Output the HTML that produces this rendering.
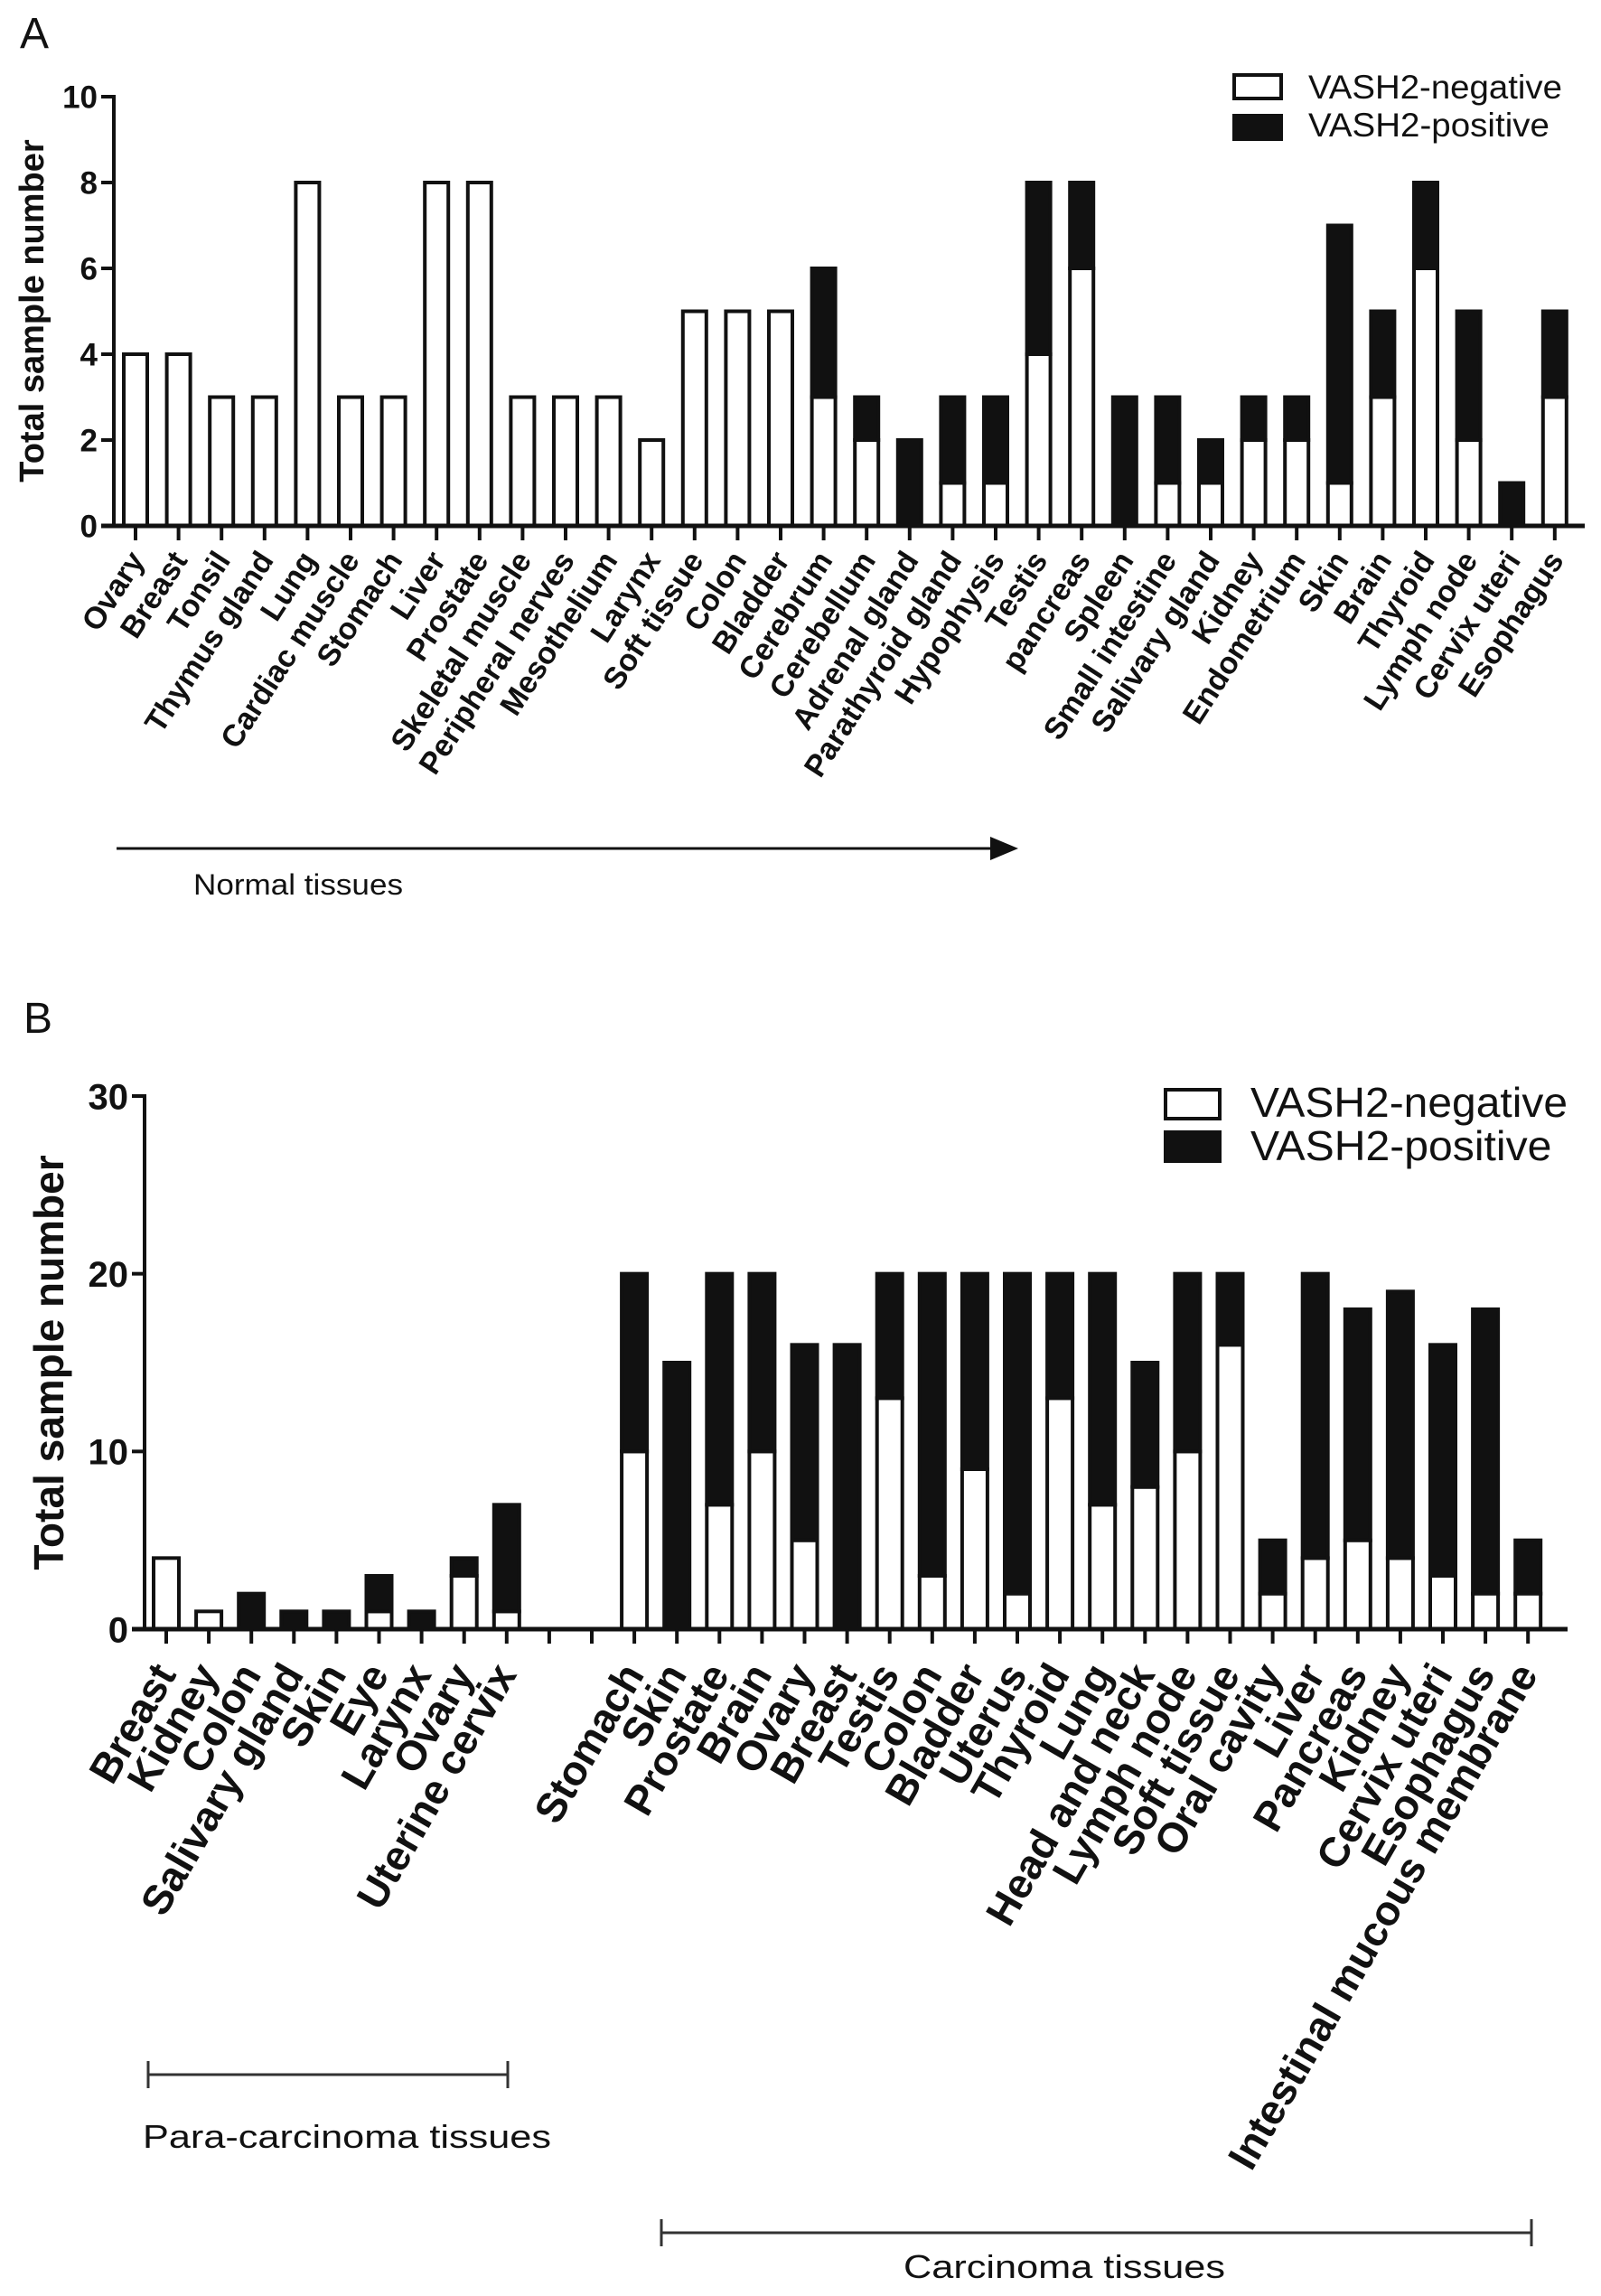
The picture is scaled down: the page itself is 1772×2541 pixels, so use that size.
<!DOCTYPE html>
<html><head><meta charset="utf-8"><style>
html,body{margin:0;padding:0;background:#fff;}
svg{display:block;font-family:"Liberation Sans",Arial,sans-serif;}
</style></head><body>
<svg id="fig" width="1772" height="2541" viewBox="0 0 1772 2541" xmlns="http://www.w3.org/2000/svg">
<rect width="1772" height="2541" fill="#fff"/>
<g id="panelA"></g>
<g id="panelB"></g>
</svg>
<script>
// Panel A data
const catsA = ["Ovary","Breast","Tonsil","Thymus gland","Lung","Cardiac muscle","Stomach","Liver","Prostate","Skeletal muscle","Peripheral nerves","Mesothelium","Larynx","Soft tissue","Colon","Bladder","Cerebrum","Cerebellum","Adrenal gland","Parathyroid gland","Hypophysis","Testis","pancreas","Spleen","Small intestine","Salivary gland","Kidney","Endometrium","Skin","Brain","Thyroid","Lymph node","Cervix  uteri","Esophagus"];
const negA = [4,4,3,3,8,3,3,8,8,3,3,3,2,5,5,5,3,2,0,1,1,4,6,0,1,1,2,2,1,3,6,2,0,3];
const posA = [0,0,0,0,0,0,0,0,0,0,0,0,0,0,0,0,3,1,2,2,2,4,2,3,2,1,1,1,6,2,2,3,1,2];
const ticksA = [0,2,4,6,8,10];
// Panel B data
const catsB = ["Breast","Kidney","Colon","Salivary  gland","Skin","Eye","Larynx","Ovary","Uterine  cervix","","","Stomach","Skin","Prostate","Brain","Ovary","Breast","Testis","Colon","Bladder","Uterus","Thyroid","Lung","Head and neck","Lymph node","Soft  tissue","Oral  cavity","Liver","Pancreas","Kidney","Cervix uteri","Esophagus","Intestinal mucous membrane"];
const negB = [4,1,0,0,0,1,0,3,1,0,0,10,0,7,10,5,0,13,3,9,2,13,7,8,10,16,2,4,5,4,3,2,2];
const posB = [0,0,2,1,1,2,1,1,6,0,0,10,15,13,10,11,16,7,17,11,18,7,13,7,10,4,3,16,13,15,13,16,3];
const ticksB = [0,10,20,30];

const NS = "http://www.w3.org/2000/svg";
function mk(parent, tag, attrs, text){
  const e = document.createElementNS(NS, tag);
  for (const k in attrs) e.setAttribute(k, attrs[k]);
  if (text !== undefined) e.textContent = text;
  parent.appendChild(e);
  return e;
}

function drawPanel(g, cfg){
  const {cats, neg, pos, ticks, x0, dx, y0, yTop, vmax, axisX, axisEnd, bw, tickFont, labFont, labAngle, labDx, labDy, ylab} = cfg;
  const ys = v => y0 - (y0 - yTop) * v / vmax;
  const xs = i => x0 + i * dx;
  cats.forEach((c, i) => {
    const n = neg[i], p = pos[i];
    if (n + p === 0) return;
    const cx = xs(i);
    if (n > 0) {
      const r = mk(g, 'rect', {x: cx - bw/2, y: ys(n), width: bw, height: y0 - ys(n), fill:'#fff', stroke:'#111', 'stroke-width':4});
      
      
    }
    if (p > 0) {
      const r = mk(g, 'rect', {x: cx - bw/2, y: ys(n + p), width: bw, height: ys(n) - ys(n + p), fill:'#111', stroke:'#111', 'stroke-width':4});
      
      
    }
  });
  const ya = mk(g, 'line', {x1: axisX, y1: yTop - 2, x2: axisX, y2: y0, stroke:'#111', 'stroke-width':4});
  
  
  const xa = mk(g, 'line', {x1: axisX - 14, y1: y0, x2: axisEnd, y2: y0, stroke:'#111', 'stroke-width':5});
  
  
  ticks.forEach(t => {
    mk(g, 'line', {x1: axisX - 14, y1: ys(t), x2: axisX, y2: ys(t), stroke:'#111', 'stroke-width':4});
    const tl = mk(g, 'text', {x: axisX - 18, y: ys(t) + tickFont*0.36, 'text-anchor':'end', 'font-size':tickFont, 'font-weight':'bold', fill:'#111'}, String(t));
    
    
  });
  cats.forEach((c, i) => {
    const cx = xs(i);
    mk(g, 'line', {x1: cx, y1: y0, x2: cx, y2: y0 + 16, stroke:'#111', 'stroke-width':4});
    if (!c) return;
    const ax = cx + labDx, ay = y0 + labDy;
    const t = mk(g, 'text', {x: ax, y: ay, 'text-anchor':'end', 'font-size':labFont, 'font-weight':'bold', fill:'#111', transform:`rotate(${labAngle} ${ax} ${ay})`, 'xml:space':'preserve'}, c);
    
    
  });
  const yl = mk(g, 'text', {x: ylab.x, y: ylab.y, 'text-anchor':'middle', 'font-size':ylab.size, 'font-weight':'bold', fill:'#111', transform:`rotate(-90 ${ylab.x} ${ylab.y})`}, 'Total sample number');
  
  
}

const gA = document.getElementById('panelA');
drawPanel(gA, {cats: catsA, neg: negA, pos: posA, ticks: ticksA, x0:150, dx:47.6, y0:582, yTop:107, vmax:10, axisX:126, axisEnd:1754, bw:26, tickFont:35, labFont:34, labAngle:-57, labDx:11, labDy:38, ylab:{x:48, y:344, size:38}});
const gB = document.getElementById('panelB');
drawPanel(gB, {cats: catsB, neg: negB, pos: posB, ticks: ticksB, x0:184, dx:47.1, y0:1803, yTop:1213, vmax:30, axisX:160, axisEnd:1735, bw:28, tickFont:40, labFont:46, labAngle:-60, labDx:12, labDy:50, ylab:{x:70, y:1508, size:46}});

const svg = document.getElementById('fig');
let e;
e = mk(svg, 'text', {x:22, y:53, 'font-size':48, fill:'#111'}, 'A');


e = mk(svg, 'text', {x:26, y:1143, 'font-size':48, fill:'#111'}, 'B');



function legend(x, y1, y2, bw, bh, tx, b1, b2, fs, tlen, name){
  const g = mk(svg, 'g', {});
  
  
  mk(g, 'rect', {x:x, y:y1, width:bw, height:bh, fill:'#fff', stroke:'#111', 'stroke-width':4});
  mk(g, 'rect', {x:x, y:y2, width:bw, height:bh, fill:'#111', stroke:'#111', 'stroke-width':4});
  const t1 = mk(g, 'text', {x:tx, y:b1, 'font-size':fs, fill:'#111', textLength:tlen, lengthAdjust:'spacingAndGlyphs'}, 'VASH2-negative');
  
  
  const t2 = mk(g, 'text', {x:tx, y:b2, 'font-size':fs, fill:'#111', textLength:tlen*0.95, lengthAdjust:'spacingAndGlyphs'}, 'VASH2-positive');
  
  
}
legend(1366, 83, 128, 52, 26, 1448, 109, 151, 37, 281, 'legend-a');
legend(1290, 1206, 1253, 60, 32, 1384, 1236, 1284, 46, 351, 'legend-b');

e = mk(svg, 'line', {x1:129, y1:939, x2:1100, y2:939, stroke:'#111', 'stroke-width':3});


mk(svg, 'polygon', {points:'1096,926 1127,939 1096,952', fill:'#111'});
e = mk(svg, 'text', {x:214, y:990, 'font-size':32, fill:'#111', textLength:232, lengthAdjust:'spacingAndGlyphs'}, 'Normal tissues');



function bracket(x1, x2, y, name){
  const g = mk(svg, 'g', {});
  
  
  mk(g, 'line', {x1:x1, y1:y, x2:x2, y2:y, stroke:'#333', 'stroke-width':3});
  mk(g, 'line', {x1:x1, y1:y-15, x2:x1, y2:y+15, stroke:'#333', 'stroke-width':3});
  mk(g, 'line', {x1:x2, y1:y-15, x2:x2, y2:y+15, stroke:'#333', 'stroke-width':3});
}
bracket(164, 562, 2296, 'para-carcinoma-bracket');
bracket(732, 1695, 2471, 'carcinoma-bracket');
e = mk(svg, 'text', {x:158, y:2377, 'font-size':36, fill:'#111', textLength:452, lengthAdjust:'spacingAndGlyphs'}, 'Para-carcinoma tissues');


e = mk(svg, 'text', {x:1000, y:2521, 'font-size':36, fill:'#111', textLength:356, lengthAdjust:'spacingAndGlyphs'}, 'Carcinoma tissues');


</script>
</body></html>
